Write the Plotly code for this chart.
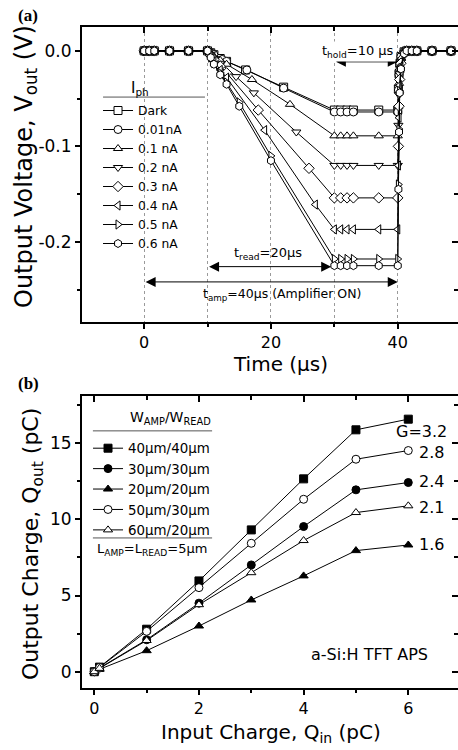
import plotly.graph_objects as go

# ---------------- Panel (a): output voltage vs time ----------------
iph_labels = ["Dark", "0.01nA", "0.1 nA", "0.2 nA", "0.3 nA", "0.4 nA", "0.5 nA", "0.6 nA"]
iph_symbols = ["square", "circle", "triangle-up", "triangle-down", "diamond",
               "triangle-left", "triangle-right", "hexagon"]

t_pre = [0, 0.8, 1.6, 4, 7]
v_pre = [0, 0, 0, 0, 0]
t_hold = [30, 31, 32, 33, 37, 40]
t_rise = [40.1, 40.2, 40.3, 40.5, 41.0]
t_post = [41.4, 42.2, 43.0, 45.4, 48.4]
v_post = [0, 0, 0, 0, 0]

t_ramp = [
    [10, 10.5, 11, 12, 13, 16, 22],
    [10, 10.5, 11, 12.3, 13, 16.2, 22],
    [10, 10.5, 11, 12, 13, 17, 23],
    [10, 10.5, 11, 12, 14.5, 17.3, 24],
    [10, 10.5, 11, 12, 13, 18, 26],
    [10, 10.5, 11, 12, 13, 19, 27],
    [10, 10.5, 11, 12, 13, 15, 20],
    [10, 10.5, 11, 12, 13, 15, 20],
]
v_ramp = [
    [0, -0.002, -0.004, -0.008, -0.011, -0.020, -0.038],
    [0, -0.002, -0.004, -0.009, -0.011, -0.020, -0.039],
    [0, -0.003, -0.006, -0.010, -0.014, -0.030, -0.056],
    [0, -0.004, -0.008, -0.013, -0.027, -0.044, -0.085],
    [0, -0.005, -0.009, -0.016, -0.023, -0.062, -0.123],
    [0, -0.006, -0.011, -0.020, -0.028, -0.083, -0.161],
    [0, -0.007, -0.013, -0.023, -0.033, -0.054, -0.110],
    [0, -0.007, -0.014, -0.025, -0.035, -0.058, -0.115],
]
v_hold = [
    [-0.062, -0.062, -0.062, -0.062, -0.062, -0.062],
    [-0.064, -0.064, -0.064, -0.064, -0.064, -0.064],
    [-0.089, -0.089, -0.089, -0.089, -0.089, -0.089],
    [-0.120, -0.120, -0.120, -0.120, -0.120, -0.120],
    [-0.154, -0.154, -0.154, -0.154, -0.154, -0.154],
    [-0.187, -0.187, -0.187, -0.187, -0.187, -0.187],
    [-0.218, -0.218, -0.218, -0.218, -0.218, -0.218],
    [-0.225, -0.225, -0.225, -0.225, -0.225, -0.225],
]
v_rise = [
    [-0.040, -0.024, -0.013, -0.006, -0.001],
    [-0.041, -0.025, -0.014, -0.006, -0.001],
    [-0.058, -0.034, -0.018, -0.008, -0.001],
    [-0.078, -0.046, -0.024, -0.011, -0.002],
    [-0.100, -0.058, -0.030, -0.013, -0.002],
    [-0.120, -0.070, -0.036, -0.016, -0.002],
    [-0.140, -0.082, -0.042, -0.018, -0.003],
    [-0.145, -0.085, -0.044, -0.019, -0.003],
]

# ---------------- Panel (b): output charge vs input charge ----------------
q_in = [0, 0.1, 1, 2, 3, 4, 5, 6]
w_labels = ["40\u03bcm/40\u03bcm", "30\u03bcm/30\u03bcm", "20\u03bcm/20\u03bcm",
            "50\u03bcm/30\u03bcm", "60\u03bcm/20\u03bcm"]
w_symbols = ["square", "circle", "triangle-up", "circle-open", "triangle-up-open"]
q_40_40 = [0, 0.30, 2.79, 5.96, 9.31, 12.66, 15.88, 16.58]
q_30_30 = [0, 0.24, 2.10, 4.50, 7.01, 9.53, 11.94, 12.42]
q_20_20 = [0, 0.16, 1.38, 3.00, 4.71, 6.29, 7.95, 8.32]
q_50_30 = [0, 0.28, 2.65, 5.52, 8.43, 11.32, 13.95, 14.52]
q_60_20 = [0, 0.22, 2.05, 4.40, 6.50, 8.61, 10.45, 10.89]
q_out = [q_40_40, q_30_30, q_20_20, q_50_30, q_60_20]
gain_labels = ["G=3.2", "2.8", "2.4", "2.1", "1.6"]
gain_x = [5.73, 6.16, 6.16, 6.16, 6.16]
gain_y = [15.74, 14.36, 12.48, 10.75, 8.32]

FONT = "DejaVu Sans"
fig = go.Figure()

for i, name in enumerate(iph_labels):
    xs = t_pre + t_ramp[i] + t_hold + t_rise + t_post
    ys = v_pre + v_ramp[i] + v_hold[i] + v_rise[i] + v_post
    fig.add_trace(go.Scatter(
        x=xs, y=ys, name=name, mode="lines+markers", xaxis="x", yaxis="y",
        legend="legend",
        line=dict(color="black", width=1),
        marker=dict(symbol=iph_symbols[i], size=8, color="white",
                    line=dict(color="black", width=1)),
    ))

for i, name in enumerate(w_labels):
    openm = w_symbols[i].endswith("-open")
    fig.add_trace(go.Scatter(
        x=q_in, y=q_out[i], name=name, mode="lines+markers", xaxis="x2", yaxis="y2",
        legend="legend2",
        line=dict(color="black", width=1),
        marker=dict(symbol=w_symbols[i].replace("-open", ""), size=8,
                    color="white" if openm else "black",
                    line=dict(color="black", width=1)),
    ))

# empty traces so the overlay (inside-tick) axes exist
for xa, ya in [("x3", "y"), ("x", "y3"), ("x4", "y2"), ("x2", "y4")]:
    fig.add_trace(go.Scatter(x=[], y=[], xaxis=xa, yaxis=ya, showlegend=False,
                             hoverinfo="skip"))

XR_A = [-9.8, 49.5]
YR_A = [-0.284, 0.025]
XR_B = [-0.235, 6.95]
YR_B = [-1.07, 18.12]
DOM_A = [0.5537, 1.0]
DOM_B = [0.0, 0.4422]

tickfont = dict(family=FONT, size=17, color="black")
xtickfont = dict(family=FONT, size=16, color="black")
base = dict(showline=True, linecolor="black", linewidth=2, mirror=True,
            ticks="outside", ticklen=5, tickwidth=1.5, tickcolor="black",
            zeroline=False, showgrid=False, tickfont=tickfont)
inner = dict(showline=False, ticks="inside", ticklen=6, tickwidth=1.5,
             tickcolor="black", showticklabels=False, zeroline=False, showgrid=False)

fig.update_layout(
    xaxis=dict(base, domain=[0, 1], anchor="y", range=XR_A, tickfont=xtickfont,
               tickvals=[0, 20, 40], showgrid=True, gridcolor="#9a9a9a",
               griddash="dot", gridwidth=1,
               minor=dict(tickvals=[10, 30], ticks="outside", ticklen=3,
                          tickcolor="black", showgrid=True, gridcolor="#9a9a9a",
                          griddash="dot")),
    xaxis3=dict(inner, overlaying="x", side="top", anchor="y", range=XR_A,
                tickvals=[0, 20, 40],
                minor=dict(tickvals=[10, 30], ticks="inside", ticklen=4,
                           tickcolor="black")),
    yaxis=dict(base, domain=DOM_A, anchor="x", range=YR_A,
               tickvals=[0, -0.1, -0.2], ticktext=["0.0", "-0.1", "-0.2"],
               minor=dict(tickvals=[-0.05, -0.15, -0.25], ticks="outside",
                          ticklen=3, tickcolor="black")),
    yaxis3=dict(inner, overlaying="y", side="right", anchor="x", range=YR_A,
                tickvals=[0, -0.1, -0.2],
                minor=dict(tickvals=[-0.05, -0.15, -0.25], ticks="inside",
                           ticklen=4, tickcolor="black")),
    xaxis2=dict(base, domain=[0, 1], anchor="y2", range=XR_B, tickfont=xtickfont,
                tickvals=[0, 2, 4, 6],
                minor=dict(tickvals=[1, 3, 5], ticks="outside", ticklen=3,
                           tickcolor="black")),
    xaxis4=dict(inner, overlaying="x2", side="top", anchor="y2", range=XR_B,
                tickvals=[0, 2, 4, 6],
                minor=dict(tickvals=[1, 3, 5], ticks="inside", ticklen=4,
                           tickcolor="black")),
    yaxis2=dict(base, domain=DOM_B, anchor="x2", range=YR_B,
                tickvals=[0, 5, 10, 15],
                minor=dict(tickvals=[2.5, 7.5, 12.5, 17.5], ticks="outside",
                           ticklen=3, tickcolor="black")),
    yaxis4=dict(inner, overlaying="y2", side="right", anchor="x2", range=YR_B,
                tickvals=[0, 5, 10, 15],
                minor=dict(tickvals=[2.5, 7.5, 12.5, 17.5], ticks="inside",
                           ticklen=4, tickcolor="black")),
    legend=dict(x=0.0426, y=0.8956, xanchor="left", yanchor="top",
                bgcolor="rgba(0,0,0,0)", borderwidth=0, tracegroupgap=0,
                font=dict(family=FONT, size=12.3, color="black")),
    legend2=dict(x=0.016, y=0.3858, xanchor="left", yanchor="top",
                 bgcolor="rgba(0,0,0,0)", borderwidth=0, tracegroupgap=0,
                 font=dict(family=FONT, size=13.4, color="black")),
    width=458, height=750,
    margin=dict(l=82, r=0, t=27, b=62, autoexpand=False),
    paper_bgcolor="white", plot_bgcolor="white",
    font=dict(family=FONT, color="black"),
    showlegend=True,
)

# legend headers
fig.add_annotation(text="I<sub>ph</sub>", xref="paper", yref="paper", x=0.154, y=0.9077,
                   xanchor="center", yanchor="middle", showarrow=False,
                   font=dict(family=FONT, size=15, color="black"))
fig.add_annotation(text="W<sub>AMP</sub>/W<sub>READ</sub>", xref="paper", yref="paper",
                   x=0.2367, y=0.4085, xanchor="center", yanchor="middle",
                   showarrow=False, font=dict(family=FONT, size=14, color="black"))

# axis titles
fig.add_annotation(text="Time (\u03bcs)", xref="paper", yref="paper", x=0.529, y=0.4902,
                   xanchor="center", yanchor="middle", showarrow=False,
                   font=dict(family=FONT, size=20, color="black"))
fig.add_annotation(text="Output Voltage, V<sub>out</sub> (V)", xref="paper", yref="paper",
                   x=-0.1516, y=0.7897, xanchor="center", yanchor="middle",
                   textangle=-90, showarrow=False,
                   font=dict(family=FONT, size=24, color="black"))
fig.add_annotation(text="Input Charge, Q<sub>in</sub> (pC)", xref="paper", yref="paper",
                   x=0.503, y=-0.0681, xanchor="center", yanchor="middle",
                   showarrow=False, font=dict(family=FONT, size=20, color="black"))
fig.add_annotation(text="Output Charge, Q<sub>out</sub> (pC)", xref="paper", yref="paper",
                   x=-0.130, y=0.2179, xanchor="center", yanchor="middle",
                   textangle=-90, showarrow=False,
                   font=dict(family=FONT, size=22, color="black"))

# separators in legends
fig.add_shape(type="line", xref="paper", yref="paper", x0=0.056, x1=0.327,
              y0=0.894, y1=0.894, line=dict(color="#555", width=1))
fig.add_shape(type="line", xref="paper", yref="paper", x0=0.029, x1=0.346,
              y0=0.389, y1=0.389, line=dict(color="#555", width=1))
fig.add_shape(type="line", xref="paper", yref="paper", x0=0.029, x1=0.346,
              y0=0.227, y1=0.227, line=dict(color="#555", width=1))

ann_font = dict(family=FONT, size=13, color="black")
# panel letters
fig.add_annotation(text="<b>(a)</b>", xref="paper", yref="paper", x=-0.175, y=1.018,
                   xanchor="left", yanchor="middle", showarrow=False,
                   font=dict(family="Liberation Serif", size=17, color="black"))
fig.add_annotation(text="<b>(b)</b>", xref="paper", yref="paper", x=-0.175, y=0.4614,
                   xanchor="left", yanchor="middle", showarrow=False,
                   font=dict(family="Liberation Serif", size=17, color="black"))
fig.add_annotation(text="L<sub>AMP</sub>=L<sub>READ</sub>=5\u03bcm", xref="paper",
                   yref="paper", x=0.186, y=0.2088, xanchor="center", yanchor="middle",
                   showarrow=False, font=ann_font)

# panel (a) timing arrows
arrow_specs = [
    (30, 40, -0.0115),
    (10, 29.5, -0.226),
    (0, 40, -0.242),
]
for x0, x1, yv in arrow_specs:
    fig.add_annotation(x=x1, y=yv, ax=x0, ay=yv, xref="x", yref="y", axref="x",
                       ayref="y", text="", showarrow=True, arrowhead=2,
                       arrowside="end+start", arrowsize=2.0, arrowwidth=1,
                       arrowcolor="black", standoff=0, startstandoff=0)
fig.add_annotation(x=33.8, y=-0.0005, xref="x", yref="y", text="t<sub>hold</sub>=10 \u03bcs",
                   showarrow=False, font=ann_font, bgcolor="white")
fig.add_annotation(x=19.6, y=-0.212, xref="x", yref="y", text="t<sub>read</sub>=20\u03bcs",
                   showarrow=False, font=ann_font)
fig.add_annotation(x=21.8, y=-0.255, xref="x", yref="y",
                   text="t<sub>amp</sub>=40\u03bcs (Amplifier ON)",
                   showarrow=False, font=dict(family=FONT, size=12.5, color="black"))

# panel (b) gain labels
for lab, gx, gy in zip(gain_labels, gain_x, gain_y):
    fig.add_annotation(x=gx, y=gy, xref="x2", yref="y2", text=lab, showarrow=False,
                       xanchor="left", yanchor="middle",
                       font=dict(family=FONT, size=16, color="black"))
fig.add_annotation(x=4.1, y=1.1, xref="x2", yref="y2", text="a-Si:H TFT APS",
                   showarrow=False, xanchor="left", yanchor="middle",
                   font=dict(family=FONT, size=16, color="black"))

fig.write_html("out.html")
